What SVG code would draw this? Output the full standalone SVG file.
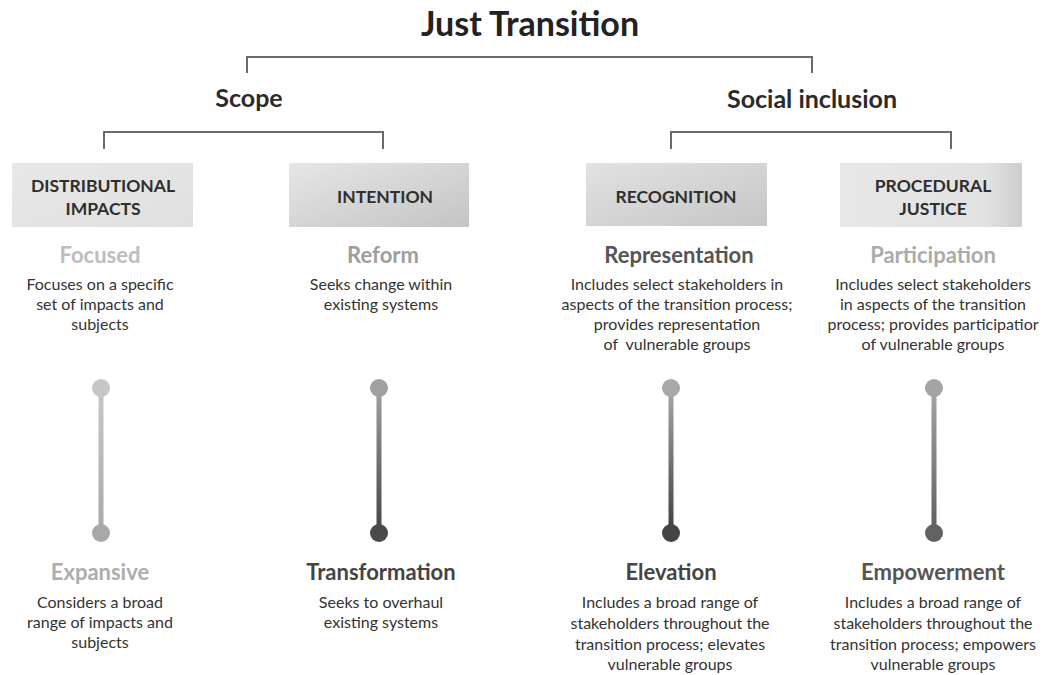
<svg xmlns="http://www.w3.org/2000/svg" width="1042" height="675" viewBox="0 0 1042 675">
<style>
text{font-family:Lato,"Open Sans","Liberation Sans",sans-serif;text-anchor:middle}
.title{font-size:34px;font-weight:700;fill:#222}
.head{font-size:25px;font-weight:700;fill:#2b2b2b}
.box{font-size:17.5px;font-weight:700;fill:#2e2e2e}
.sub{font-size:22px;font-weight:700}
.body{font-size:16px;fill:#333}
.br{fill:none;stroke:#6a6a6a;stroke-width:2}
</style>
<defs>
<linearGradient id="b1" x1="0" y1="0" x2="1" y2="1"><stop offset="0" stop-color="#e8e8e8"/><stop offset="1" stop-color="#e0e0e0"/></linearGradient>
<linearGradient id="b2" x1="0" y1="0" x2="1" y2="1"><stop offset="0" stop-color="#e6e6e6"/><stop offset="1" stop-color="#c4c4c4"/></linearGradient>
<linearGradient id="b3" x1="0" y1="0" x2="1" y2="1"><stop offset="0" stop-color="#e2e2e2"/><stop offset="1" stop-color="#c6c6c6"/></linearGradient>
<linearGradient id="b4" x1="0" y1="0" x2="1" y2="0"><stop offset="0" stop-color="#e8e8e8"/><stop offset="0.8" stop-color="#e2e2e2"/><stop offset="1" stop-color="#cdcdcd"/></linearGradient>
<linearGradient id="s1" x1="0" y1="0" x2="0" y2="1"><stop offset="0" stop-color="#c8c8c8"/><stop offset="1" stop-color="#a8a8a8"/></linearGradient>
<linearGradient id="s2" x1="0" y1="0" x2="0" y2="1"><stop offset="0" stop-color="#a0a0a0"/><stop offset="1" stop-color="#444"/></linearGradient>
<linearGradient id="s3" x1="0" y1="0" x2="0" y2="1"><stop offset="0" stop-color="#a8a8a8"/><stop offset="1" stop-color="#3e3e3e"/></linearGradient>
<linearGradient id="s4" x1="0" y1="0" x2="0" y2="1"><stop offset="0" stop-color="#a6a6a6"/><stop offset="1" stop-color="#5e5e5e"/></linearGradient>
</defs>
<rect width="1042" height="675" fill="#fff"/>

<g id="title"><text class="title" x="530" y="36">Just Transition</text></g>
<g id="scope"><text class="head" x="249" y="107">Scope</text></g>
<g id="social-inclusion"><text class="head" x="812" y="108">Social inclusion</text></g>

<g id="connectors">
<path class="br" d="M247,73 V57 H812 V73"/>
<path class="br" d="M104,149 V132 H383 V149"/>
<path class="br" d="M671,149 V132 H951 V149"/>
</g>

<g id="distributional">
<rect x="12" y="163" width="181" height="64" fill="url(#b1)"/>
<text class="box" x="103" y="192">DISTRIBUTIONAL</text>
<text class="box" x="103" y="215">IMPACTS</text>
<text class="sub" x="100" y="263" fill="#bdbdbd">Focused</text>
<text class="body" x="100" y="290">Focuses on a specific</text>
<text class="body" x="100" y="310">set of impacts and</text>
<text class="body" x="100" y="330">subjects</text>
<rect x="98.5" y="388" width="5" height="145" fill="url(#s1)"/>
<circle cx="101" cy="388" r="9" fill="#c6c6c6"/>
<circle cx="101" cy="533" r="9" fill="#a8a8a8"/>
<text class="sub" x="100" y="580" fill="#adadad">Expansive</text>
<text class="body" x="100" y="608">Considers a broad</text>
<text class="body" x="100" y="628">range of impacts and</text>
<text class="body" x="100" y="648">subjects</text>
</g>

<g id="intention">
<rect x="289" y="163" width="180" height="64" fill="url(#b2)"/>
<text class="box" x="385" y="203">INTENTION</text>
<text class="sub" x="383" y="263" fill="#9e9e9e">Reform</text>
<text class="body" x="381" y="290">Seeks change within</text>
<text class="body" x="381" y="310">existing systems</text>
<rect x="376.5" y="388" width="5" height="145" fill="url(#s2)"/>
<circle cx="379" cy="388" r="9" fill="#a0a0a0"/>
<circle cx="379" cy="533" r="9" fill="#4a4a4a"/>
<text class="sub" x="381" y="580" fill="#444">Transformation</text>
<text class="body" x="381" y="608">Seeks to overhaul</text>
<text class="body" x="381" y="628">existing systems</text>
</g>

<g id="recognition">
<rect x="586" y="163" width="181" height="63" fill="url(#b3)"/>
<text class="box" x="676" y="203">RECOGNITION</text>
<text class="sub" x="679" y="263" fill="#555">Representation</text>
<text class="body" x="677" y="290">Includes select stakeholders in</text>
<text class="body" x="677" y="310">aspects of the transition process;</text>
<text class="body" x="677" y="330">provides representation</text>
<text class="body" x="677" y="350" xml:space="preserve">of  vulnerable groups</text>
<rect x="668.5" y="388" width="5" height="145" fill="url(#s3)"/>
<circle cx="671" cy="388" r="9" fill="#a8a8a8"/>
<circle cx="671" cy="533" r="9" fill="#444"/>
<text class="sub" x="671" y="580" fill="#444">Elevation</text>
<text class="body" x="670" y="608">Includes a broad range of</text>
<text class="body" x="670" y="629">stakeholders throughout the</text>
<text class="body" x="670" y="650">transition process; elevates</text>
<text class="body" x="670" y="670">vulnerable groups</text>
</g>

<g id="procedural">
<rect x="840" y="163" width="182" height="64" fill="url(#b4)"/>
<text class="box" x="933" y="192">PROCEDURAL</text>
<text class="box" x="933" y="215">JUSTICE</text>
<text class="sub" x="933" y="263" fill="#ababab">Participation</text>
<text class="body" x="933" y="290">Includes select stakeholders</text>
<text class="body" x="933" y="310">in aspects of the transition</text>
<text class="body" x="933" y="330">process; provides participatior</text>
<text class="body" x="933" y="350">of vulnerable groups</text>
<rect x="931.5" y="388" width="5" height="145" fill="url(#s4)"/>
<circle cx="934" cy="388" r="9" fill="#a4a4a4"/>
<circle cx="934" cy="533" r="9" fill="#626262"/>
<text class="sub" x="933" y="580" fill="#555">Empowerment</text>
<text class="body" x="933" y="608">Includes a broad range of</text>
<text class="body" x="933" y="629">stakeholders throughout the</text>
<text class="body" x="933" y="650">transition process; empowers</text>
<text class="body" x="933" y="670">vulnerable groups</text>
</g>
</svg>
